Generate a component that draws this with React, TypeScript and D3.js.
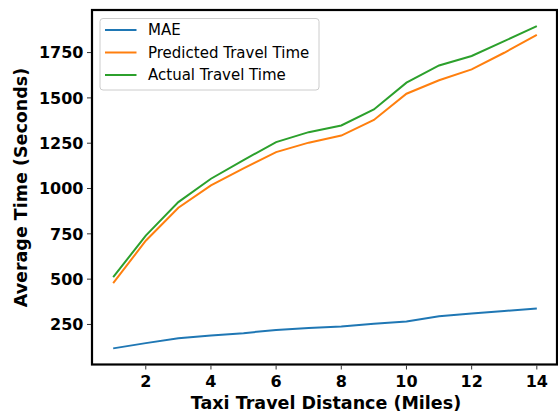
import React from "react";
import * as d3 from "d3";

const distances = [1, 2, 3, 4, 5, 6, 7, 8, 9, 10, 11, 12, 13, 14];
const mae = [118, 147, 174, 189, 202, 220, 230, 239, 254, 266, 295, 310, 324, 338];
const predicted = [478, 712, 894, 1017, 1111, 1201, 1253, 1292, 1378, 1523, 1597, 1657, 1749, 1847];
const actual = [511, 740, 925, 1054, 1157, 1256, 1311, 1348, 1436, 1584, 1679, 1731, 1813, 1896];
const seriesNames = ["MAE", "Predicted Travel Time", "Actual Travel Time"];
const seriesColors = ["#1f77b4", "#ff7f0e", "#2ca02c"];
const xTicks = [2, 4, 6, 8, 10, 12, 14];
const yTicks = [250, 500, 750, 1000, 1250, 1500, 1750];

const W = 558, H = 412;
const L = 92, R = 557, T = 10, B = 364.5;

export default function App() {
  const all = [...mae, ...predicted, ...actual];
  const ymin = d3.min(all)!, ymax = d3.max(all)!;
  const ypad = (ymax - ymin) * 0.05;
  const x = d3.scaleLinear().domain([0.35, 14.65]).range([L, R + 1]);
  const y = d3.scaleLinear().domain([ymin - ypad, ymax + ypad]).range([B, T]);
  const line = d3.line<number>().x((_, i) => x(distances[i])).y((v) => y(v));
  const data = [mae, predicted, actual];
  const font = "'DejaVu Sans', sans-serif";
  return (
    <svg width={W} height={H} style={{ position: "absolute", left: 0, top: 0 }} fontFamily={font}>
      <rect x={0} y={0} width={W} height={H} fill="#fff" />
      {data.map((d, i) => (
        <path key={i} d={line(d)!} fill="none" stroke={seriesColors[i]} strokeWidth={2} />
      ))}
      <rect x={L} y={T} width={R - L} height={B - T} fill="none" stroke="#000" strokeWidth={2.2} />
      {xTicks.map((t) => (
        <g key={t}>
          <line x1={x(t)} x2={x(t)} y1={B + 1} y2={B + 5} stroke="#333" strokeWidth={1} />
          <text x={x(t)} y={387} textAnchor="middle" fontSize={16} fontWeight="bold">{t}</text>
        </g>
      ))}
      {yTicks.map((t) => (
        <g key={t}>
          <line x1={L - 1} x2={L - 5} y1={y(t)} y2={y(t)} stroke="#333" strokeWidth={1} />
          <text x={L - 8.5} y={y(t)} dy="0.36em" textAnchor="end" fontSize={16} fontWeight="bold">{t}</text>
        </g>
      ))}
      <text x={326} y={409} textAnchor="middle" fontSize={17.5} fontWeight="bold">Taxi Travel Distance (Miles)</text>
      <text transform={`translate(27,187.5) rotate(-90)`} textAnchor="middle" fontSize={17.5} fontWeight="bold">Average Time (Seconds)</text>
      <g>
        <rect x={100} y={18.5} width={219} height={71.5} rx={3} fill="#fff" fillOpacity={0.8} stroke="#ccc" strokeWidth={1} />
        {seriesNames.map((n, i) => (
          <g key={n}>
            <line x1={105} x2={136.5} y1={30 + i * 22.5} y2={30 + i * 22.5} stroke={seriesColors[i]} strokeWidth={2} />
            <text x={148} y={30 + i * 22.5} dy="0.36em" fontSize={15}>{n}</text>
          </g>
        ))}
      </g>
    </svg>
  );
}
